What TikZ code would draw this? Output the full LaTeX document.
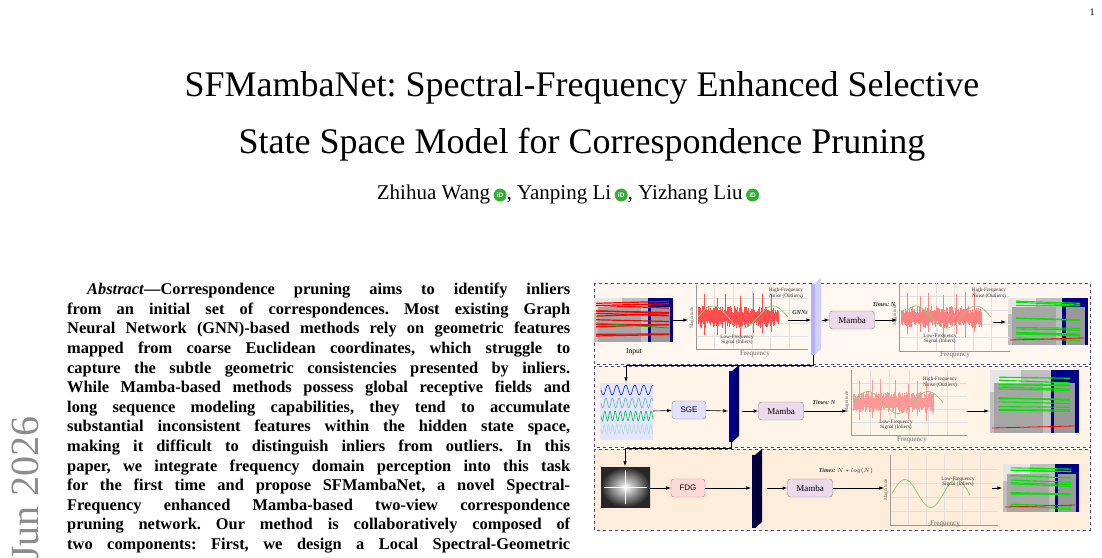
\documentclass[tikz,border=0pt]{standalone}
\usepackage{fontspec}
\setmainfont{Liberation Serif}
\newfontfamily\sfont{Liberation Sans}
\frenchspacing
\begin{document}
\begin{tikzpicture}[x=1pt,y=-1pt,
  blk/.style={draw=black!45,rounded corners=3pt,minimum height=18pt,inner sep=2pt,font=\sfont\fontsize{8}{8}\selectfont},
  mamba/.style={blk,fill=violet!15,minimum width=45pt,font=\fontsize{9}{9}\selectfont},
  ar/.style={-latex,black,line width=0.6pt},
  panel/.style={draw=blue!30!black!70,dashed,line width=0.6pt},
  ax/.style={black!40,line width=0.5pt},
  grid/.style={black!12,line width=0.4pt},
  tiny/.style={font=\fontsize{5.2}{5.6}\selectfont,align=center,inner sep=0pt,text=black!80},
  freq/.style={font=\fontsize{7}{7}\selectfont,text=black!60,inner sep=0pt},
  orc/.style={circle,fill=green!60!black!80,inner sep=0pt,minimum size=13pt,text=white,font=\sfont\fontsize{6.5}{6.5}\bfseries\selectfont}]
\useasboundingbox (0,0) rectangle (1102,557);
\fill[white] (0,0) rectangle (1102,557);
\pgfmathsetseed{7}
% page number
\node[font=\fontsize{10}{10}\selectfont] (pg) at (1092,12) {1};
% side stamp
\node[rotate=90,text=black!45,font=\fontsize{40}{40}\selectfont,anchor=west,inner sep=0pt] (stamp) at (25,562) {Jun 2026};
% title
\node[font=\fontsize{36}{40}\selectfont] (t1) at (582,88) {SFMambaNet: Spectral-Frequency Enhanced Selective};
\node[font=\fontsize{36}{40}\selectfont] (t2) at (582,145) {State Space Model for Correspondence Pruning};
\node[font=\fontsize{21}{21}\selectfont] (au) at (568,194) {Zhihua Wang\,\tikz[baseline=-4pt]\node[orc]{iD};, Yanping Li\,\tikz[baseline=-4pt]\node[orc]{iD};, Yizhang Liu\,\tikz[baseline=-4pt]\node[orc]{iD};};
% abstract
\node[anchor=north west,inner sep=0pt,font=\fontsize{16.4}{19.6}\bfseries\selectfont] (abs) at (67,283) {\parbox{503pt}{%
\makebox[503pt][s]{\hspace*{20pt}\textit{Abstract}—Correspondence pruning aims to identify inliers}\\
\makebox[503pt][s]{from an initial set of correspondences. Most existing Graph}\\
\makebox[503pt][s]{Neural Network (GNN)-based methods rely on geometric features}\\
\makebox[503pt][s]{mapped from coarse Euclidean coordinates, which struggle to}\\
\makebox[503pt][s]{capture the subtle geometric consistencies presented by inliers.}\\
\makebox[503pt][s]{While Mamba-based methods possess global receptive fields and}\\
\makebox[503pt][s]{long sequence modeling capabilities, they tend to accumulate}\\
\makebox[503pt][s]{substantial inconsistent features within the hidden state space,}\\
\makebox[503pt][s]{making it difficult to distinguish inliers from outliers. In this}\\
\makebox[503pt][s]{paper, we integrate frequency domain perception into this task}\\
\makebox[503pt][s]{for the first time and propose SFMambaNet, a novel Spectral-}\\
\makebox[503pt][s]{Frequency enhanced Mamba-based two-view correspondence}\\
\makebox[503pt][s]{pruning network. Our method is collaboratively composed of}\\
\makebox[503pt][s]{two components: First, we design a Local Spectral-Geometric}}};
% ===== figure panels
\fill[orange!6] (594,283) rectangle (1090,364);
\fill[orange!9] (594,366) rectangle (1090,447);
\fill[orange!14] (594,449) rectangle (1090,530);
\draw[panel] (594,283) rectangle (1090,364);
\draw[panel] (594,366) rectangle (1090,447);
\draw[panel] (594,449) rectangle (1090,530);
% --- images
\foreach \X/\Y/\W/\H/\mode in {594/298/79/44/r, 1008/298/80/47/g, 990/370/89/63/g, 1003/464/76/48/g}{
  \fill[black!25] (\X,\Y) rectangle ++(\W,\H);
  \fill[black!10] (\X,\Y) rectangle ++(0.35*\W,0.35*\H);
  \fill[blue!55!black] (\X+0.68*\W,\Y) rectangle ++(0.32*\W,\H);
  \fill[black!40] (\X+0.72*\W,\Y+0.2*\H) rectangle ++(0.24*\W,0.8*\H);
  \fill[black!35] (\X+0.05*\W,\Y+0.2*\H) rectangle ++(0.55*\W,0.8*\H);
  \foreach \k in {1,...,12}{
    \pgfmathsetmacro\ya{\Y+3+rnd*(\H-6)}\pgfmathsetmacro\yb{\Y+3+rnd*(\H-6)}
    \if\mode r
      \draw[red,line width=1.2pt] (\X+2,\ya) -- (\X+\W-4,\ya+rnd*6-3);
    \else
      \draw[green!90!black,line width=1.1pt] (\X+0.1*\W,\ya) -- (\X+0.9*\W,\ya+rnd*3);
    \fi}
  \if\mode r \draw[green!70!black,line width=0.8pt] (\X+2,\Y+25) -- (\X+\W-4,\Y+30);\else
  \draw[red,line width=0.8pt] (\X+2,\Y+\H-5) -- (\X+\W-4,\Y+\H-7);\fi
}
\coordinate (in1) at (594,320); \coordinate (in1e) at (673,320);
\node[font=\fontsize{7.5}{7.5}\selectfont] (inp) at (634,352) {Input};
% --- plots
\foreach \X/\Y/\W/\H/\N/\nc in {696/285/112/64/1/red!70, 899/283/111/68/2/red!50, 851/370/116/65/3/red!40, 890/455/108/70/0/red}{
  \foreach \g in {1,...,5} \draw[grid] (\X+\g*\W/6,\Y) -- (\X+\g*\W/6,\Y+\H);
  \foreach \g in {1,...,4} \draw[grid] (\X,\Y+\g*\H/5) -- (\X+\W,\Y+\g*\H/5);
  \draw[ax] (\X,\Y) -- (\X,\Y+\H) -- (\X+\W,\Y+\H);
  \ifnum\N>0
    \foreach \i in {2,...,82}{\draw[\nc,line width=0.9pt] (\X+\i,\Y+0.5*\H-4-rnd*7) -- (\X+\i,\Y+0.5*\H+4+rnd*7);}
    \foreach \i in {8,21,29,44,57,66,75}{\draw[\nc,line width=0.6pt] (\X+\i,\Y+0.12*\H+rnd*6) -- (\X+\i,\Y+0.8*\H-rnd*6);}
    \draw[green!45!gray!70,line width=0.7pt] plot[domain=0:90,samples=60] (\X+2+\x,{\Y+0.5*\H-11*sin(\x*6)});
  \else
    \draw[green!45!gray!70,line width=0.7pt] plot[domain=0:78,samples=60] (\X+2+\x,{\Y+0.55*\H-14*sin(\x*7)});
  \fi
}
\node[freq] (f1) at (755,354) {Frequency};
\node[freq] (f2) at (955,355) {Frequency};
\node[freq] (f3) at (912,440) {Frequency};
\node[freq] (f4) at (945,524) {Frequency};
\node[freq,rotate=90,font=\fontsize{5}{5}\selectfont] (m1) at (692,318) {Magnitude};
\node[freq,rotate=90,font=\fontsize{5}{5}\selectfont] (m2) at (895,315) {Magnitude};
\node[freq,rotate=90,font=\fontsize{5}{5}\selectfont] (m3) at (847,402) {Magnitude};
\node[freq,rotate=90,font=\fontsize{5}{5}\selectfont] (m4) at (886,490) {Magnitude};
\node[tiny] (h1) at (786,293) {High-Frequency\\Noise (Outliers)};
\node[tiny] (l1) at (737,340) {Low-Frequency\\Signal (Inliers)};
\node[tiny] (h2) at (989,293) {High-Frequency\\Noise (Outliers)};
\node[tiny] (l2) at (940,339) {Low-Frequency\\Signal (Inliers)};
\node[tiny] (h3) at (940,382) {High-Frequency\\Noise (Outliers)};
\node[tiny] (l3) at (896,425) {Low-Frequency\\Signal (Inliers)};
\node[tiny] (l4) at (958,482) {Low-Frequency\\Signal (Inliers)};
% --- slabs
\foreach \X/\Y/\H/\c/\cs/\n in {811/284/71/blue!30/blue!18/s1, 729/371/71/blue!60!black/blue!45!black/s2, 752/455/73/blue!30!black/blue!20!black/s3}{
  \fill[\cs] (\X+3,\Y) -- (\X+10,\Y-6) -- (\X+10,\Y+\H-6) -- (\X+3,\Y+\H) -- cycle;
  \fill[\c] (\X,\Y) rectangle (\X+4,\Y+\H);
  \coordinate (\n) at (\X+5,\Y+0.5*\H);
  \coordinate (\n b) at (\X+2,\Y+\H);
}
% --- row 1
\node[tiny,font=\bfseries\itshape\fontsize{6}{6}\selectfont] (gnn) at (800,313) {GNNs};
\node[mamba] (mb1) at (852,320) {Mamba};
\node[tiny,font=\itshape\bfseries\fontsize{6}{6}\selectfont] (tm1) at (884,304) {Times: N};
\draw[ar] (in1e) -- (688,320);
\draw[ar] (788,320) -- (811,320);
\draw[ar] (822,320) -- (mb1);
\draw[ar] (mb1) -- (897,320);
\draw[ar] (993,322) -- (1006,322);
% --- row 2
\fill[blue!10] (600,383) rectangle (653,440);
\foreach \r/\c in {0/blue!60!teal, 1/teal!60, 2/green!50!teal, 3/teal!30}{
  \draw[\c,line width=0.6pt] plot[domain=0:52,samples=80] (601+\x,{390+\r*13+5*sin(\x*(40+\r*15))});}
\node[blk,fill=blue!12,minimum width=34pt] (sge) at (689,410) {SGE};
\node[mamba] (mb2) at (781,411) {Mamba};
\node[tiny,font=\itshape\bfseries\fontsize{6}{6}\selectfont] (tm2) at (824,402) {Times: N};
\draw[ar] (s1b) -- (813,365) -- (626,365) -- (626,382);
\draw[ar] (653,411) -- (sge);
\draw[ar] (sge) -- (728,411);
\draw[ar] (742,411) -- (mb2);
\draw[ar] (mb2) -- (847,411);
\draw[ar] (967,411) -- (989,411);
% --- row 3
\shade[inner color=white,outer color=black!85] (601,467) rectangle (650,507);
\draw[white!60,line width=0.4pt] (625.5,470) -- (625.5,504) (604,487) -- (647,487);
\node[blk,fill=red!15,draw=red!50!black!50,minimum width=34pt] (fdg) at (688,488) {FDG};
\node[mamba] (mb3) at (810,488) {Mamba};
\node[tiny,font=\itshape\bfseries\fontsize{6}{6}\selectfont] (tm3) at (846,471) {Times: $N*log(N)$};
\draw[ar] (s2b) -- (731,448) -- (625,448) -- (625,466);
\draw[ar] (650,488) -- (fdg);
\draw[ar] (fdg) -- (751,488);
\draw[ar] (767,488) -- (mb3);
\draw[ar] (mb3) -- (884,488);
\draw[ar] (992,488) -- (1002,488);
\end{tikzpicture}
\end{document}
